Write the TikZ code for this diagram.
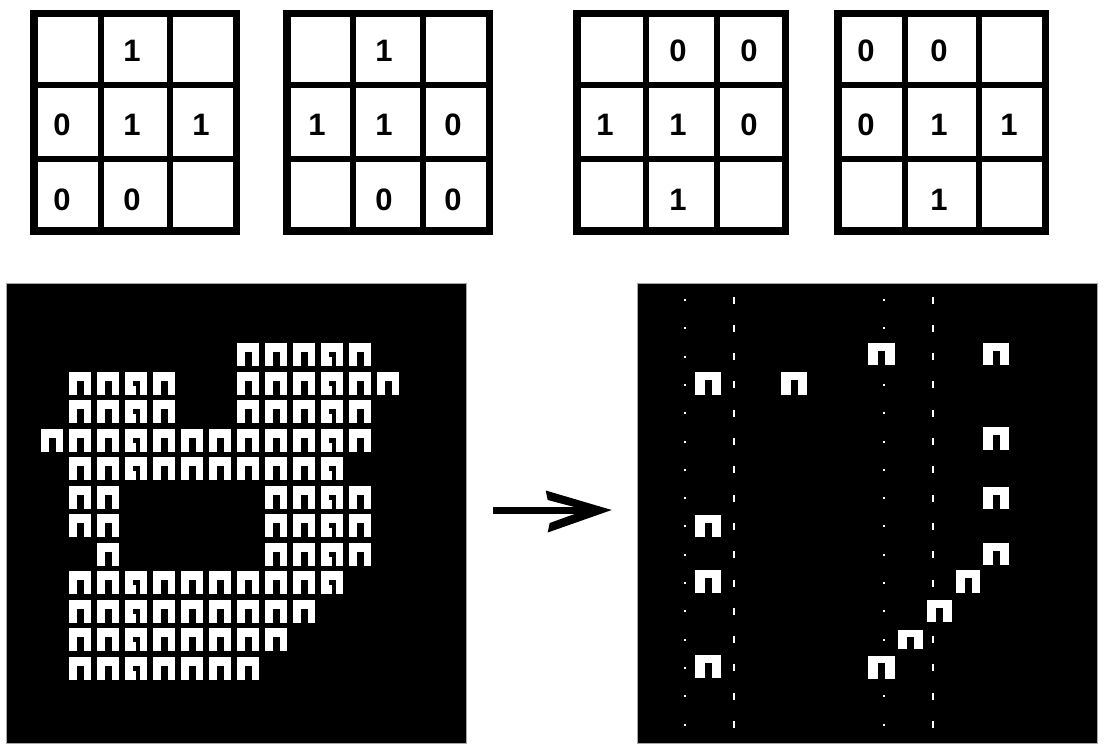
\documentclass[tikz,border=0pt]{standalone}
\usepackage{fontspec}
\setmainfont{Liberation Sans}
\newcommand{\nglyph}[5]{% x y w h notchheight
  \fill[white] (#1,#2) rectangle ++(#3,#4);
  \fill[black] ({#1+#3/2-3.5},{#2+#4-#5}) rectangle ++(7,#5);}
\newcommand{\nvariant}[4]{% x y w h
  \fill[white] (#1,#2) rectangle ++(#3,#4);
  \fill[black] ({#1+#3/2-3.5},{#2+#4-14}) rectangle ++(7,14);
  \fill[white] ({#1+#3/2-3.5},{#2+#4-9}) rectangle ++(3,9);}
\begin{document}
\begin{tikzpicture}[x=1pt,y=-1pt,
  digit/.style={font=\fontsize{31}{31}\selectfont\bfseries, inner sep=0pt, anchor=center},
  gridbox/.style={draw=black, line width=7.5pt, fill=white, inner sep=0pt, minimum height=217.5pt},
  cellline/.style={line width=6pt},
  panel/.style={fill=black, draw=gray!70, line width=0.6pt, minimum size=460pt, inner sep=0pt},
  arrowline/.style={line width=7pt},
  arrowhead/.style={fill=black}
  ]
\useasboundingbox (0,0) rectangle (1106,754);
\fill[white] (0,0) rectangle (1106,754);

% ---------- top 3x3 grids ----------
\node[gridbox, minimum width=202.5pt] (g1) at (135,122.5) {};
\draw[cellline] (101,13) -- (101,232) (170,13) -- (170,232) (33,85) -- (237,85) (33,159) -- (237,159);
\node[gridbox, minimum width=202.5pt] (g2) at (388,122.5) {};
\draw[cellline] (353,13) -- (353,232) (423,13) -- (423,232) (286,85) -- (490,85) (286,159) -- (490,159);
\node[gridbox, minimum width=208.5pt] (g3) at (681,122.5) {};
\draw[cellline] (646,13) -- (646,232) (717,13) -- (717,232) (576,85) -- (786,85) (576,159) -- (786,159);
\node[gridbox, minimum width=207.5pt] (g4) at (941.5,122.5) {};
\draw[cellline] (905,13) -- (905,232) (979,13) -- (979,232) (837,85) -- (1046,85) (837,159) -- (1046,159);

% grid 1
\node[digit] (g1b) at (132,51) {1};
\node[digit] (g1d) at (62,125) {0};
\node[digit] (g1e) at (132,125) {1};
\node[digit] (g1f) at (201,125) {1};
\node[digit] (g1g) at (62,200) {0};
\node[digit] (g1h) at (132,200) {0};
% grid 2
\node[digit] (g2b) at (384,51) {1};
\node[digit] (g2d) at (317,125) {1};
\node[digit] (g2e) at (384,125) {1};
\node[digit] (g2f) at (453,125) {0};
\node[digit] (g2h) at (384,200) {0};
\node[digit] (g2i) at (453,200) {0};
% grid 3
\node[digit] (g3b) at (678,51) {0};
\node[digit] (g3c) at (749,51) {0};
\node[digit] (g3d) at (605,125) {1};
\node[digit] (g3e) at (678,125) {1};
\node[digit] (g3f) at (749,125) {0};
\node[digit] (g3h) at (678,200) {1};
% grid 4
\node[digit] (g4a) at (866,51) {0};
\node[digit] (g4b) at (939,51) {0};
\node[digit] (g4d) at (866,125) {0};
\node[digit] (g4e) at (939,125) {1};
\node[digit] (g4f) at (1009,125) {1};
\node[digit] (g4h) at (939,200) {1};

% ---------- panels ----------
\node[panel] (L) at (236,513) {};
\node[panel] (R) at (867,513) {};

% left panel glyphs
\foreach \r/\cl in {0/{7,8,9,10,11},
                    1/{1,2,3,4,7,8,9,10,11,12},
                    2/{1,2,3,4,7,8,9,10,11},
                    3/{0,1,2,3,4,5,6,7,8,9,10,11},
                    4/{1,2,3,4,5,6,7,8,9,10},
                    5/{1,2,8,9,10,11},
                    6/{1,2,8,9,10,11},
                    7/{2,8,9,10,11},
                    8/{1,2,3,4,5,6,7,8,9,10},
                    9/{1,2,3,4,5,6,7,8,9},
                    10/{1,2,3,4,5,6,7,8},
                    11/{1,2,3,4,5,6,7}}{
  \foreach \c in \cl {
    \pgfmathsetmacro\xx{41+28*\c}
    \pgfmathsetmacro\yy{343+28.5*\r}
    \ifnum\c=3 \nvariant{\xx}{\yy}{22}{23}%
    \else\ifnum\c=10 \nvariant{\xx}{\yy}{22}{23}%
    \else \nglyph{\xx}{\yy}{22}{23}{14}\fi\fi
  }
}

% right panel dotted guide lines
\foreach \k in {0,...,15}{
  \pgfmathsetmacro\yy{300+28.3*\k}
  \fill[white] (684,\yy-1) rectangle ++(2,2);
  \fill[white] (883,\yy-1) rectangle ++(2,2);
  \fill[white] (733,\yy-3.5) rectangle ++(2,7);
  \fill[white] (932,\yy-3.5) rectangle ++(2,7);
}

% right panel glyphs
\foreach \x/\y/\w/\h/\n in {868/343/27/22/14, 983/343/26/22/14, 695/372/26/23/15,
   781/372/26/23/15, 983/427/26/23/15, 983/487/26/22/14, 695/515/26/22/14,
   983/543/26/22/14, 695/570/26/23/15, 956/570/24/23/15, 927/600/25/22/14,
   898/630/25/19/12, 695/655/26/23/15, 868/656/27/23/16}{
  \nglyph{\x}{\y}{\w}{\h}{\n}
}

% ---------- arrow ----------
\coordinate (astart) at ([xshift=27pt,yshift=3pt]L.east);
\coordinate (atip) at ([xshift=-27pt,yshift=3pt]R.west);
\draw[arrowline] (astart) -- ([xshift=-16pt]atip);
\fill[arrowhead] ([shift={(-64pt,19.5pt)}]atip) -- ([xshift=2pt]atip)
   -- ([shift={(-62pt,-22.5pt)}]atip) -- ([shift={(-60pt,-13pt)}]atip)
   -- ([xshift=-24pt]atip) -- ([shift={(-62pt,10pt)}]atip) -- cycle;
\end{tikzpicture}
\end{document}
